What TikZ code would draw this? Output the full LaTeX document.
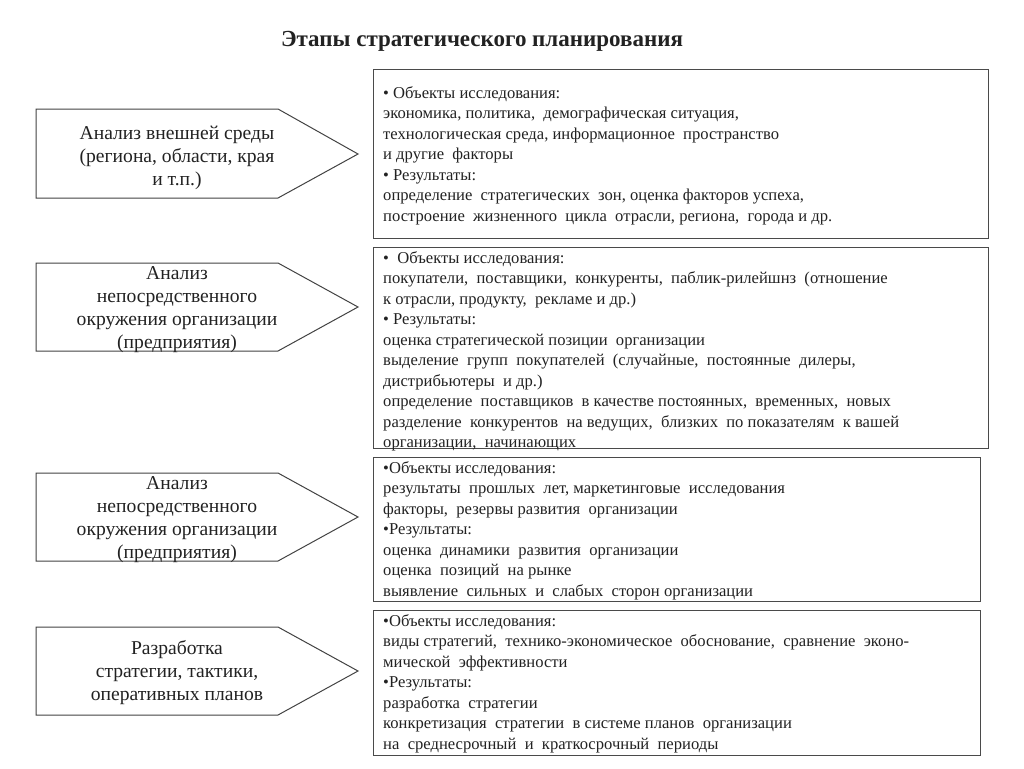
\documentclass[tikz,border=0pt]{standalone}
\usepackage{fontspec}
\setmainfont{Liberation Serif}
\definecolor{ink}{HTML}{222222}
\definecolor{frame}{HTML}{4A4A4A}
\tikzset{
  x=1pt, y=-1pt,
  boxframe/.style={draw=frame, line width=1.4pt, inner sep=0pt, anchor=north west},
  boxtext/.style={anchor=north west, inner sep=0pt, align=left, text=ink,
    font=\fontsize{16.6}{20.5}\selectfont},
  arrowshape/.style={draw=ink!85, line width=1pt, fill=white},
  arrowtext/.style={anchor=north, inner sep=0pt, align=center, text=ink,
    font=\fontsize{19.6}{23}\selectfont},
  titletext/.style={anchor=base, inner sep=0pt, text=ink,
    font=\fontsize{23}{26}\selectfont\bfseries}
}
\newcommand{\topstrut}[1]{\rule{0pt}{#1pt}}
\begin{document}
\begin{tikzpicture}
\useasboundingbox (0,0) rectangle (1024,768);
\fill[white] (0,0) rectangle (1024,768);

\node[titletext] (title) at (482,47) {Этапы стратегического планирования};

% left pointers
\foreach \t/\b/\m in {109/198/154, 263/351/307, 473/561/517, 627/715/671}{
  \draw[arrowshape] (36,\t) -- (278,\t) -- (358,\m) -- (278,\b) -- (36,\b) -- cycle;
}

\node[arrowtext] (a1) at (177,125) {\topstrut{14}Анализ внешней среды\\(региона, области, края\\и т.п.)};
\node[arrowtext] (a2) at (177,265) {\topstrut{14}Анализ\\непосредственного\\окружения организации\\(предприятия)};
\node[arrowtext] (a3) at (177,475) {\topstrut{14}Анализ\\непосредственного\\окружения организации\\(предприятия)};
\node[arrowtext] (a4) at (177,640) {\topstrut{14}Разработка\\стратегии, тактики,\\оперативных планов};

% right boxes
\node[boxframe, minimum width=615, minimum height=169] (b1) at (373,69) {};
\node[boxframe, minimum width=615, minimum height=201] (b2) at (373,247) {};
\node[boxframe, minimum width=607, minimum height=144] (b3) at (373,457) {};
\node[boxframe, minimum width=607, minimum height=145] (b4) at (373,610) {};

\node[boxtext] (t1) at (383,86) {\topstrut{12}• Объекты исследования:\\
экономика,  политика,\ \ демографическая ситуация,\\
технологическая среда, информационное\ \ пространство\\
и другие\ \ факторы\\
• Результаты:\\
определение\ \ стратегических\ \ зон, оценка факторов успеха,\\
построение\ \ жизненного\ \ цикла\ \ отрасли, региона,\ \ города и др.};

\node[boxtext] (t2) at (383,251) {\topstrut{12}•\ \ Объекты исследования:\\
покупатели,\ \ поставщики,\ \ конкуренты,\ \ паблик-рилейшнз\ \ (отношение\\
к отрасли, продукту,\ \ рекламе и др.)\\
• Результаты:\\
оценка стратегической позиции\ \ организации\\
выделение\ \ групп\ \ покупателей\ \ (случайные,\ \ постоянные\ \ дилеры,\\
дистрибьютеры\ \ и др.)\\
определение\ \ поставщиков\ \ в качестве постоянных,\ \ временных,\ \ новых\\
разделение\ \ конкурентов\ \ на ведущих,\ \ близких\ \ по показателям\ \ к вашей\\
организации,\ \ начинающих};

\node[boxtext] (t3) at (383,461) {\topstrut{12}•Объекты исследования:\\
результаты\ \ прошлых\ \ лет, маркетинговые\ \ исследования\\
факторы,\ \ резервы развития\ \ организации\\
•Результаты:\\
оценка\ \ динамики\ \ развития\ \ организации\\
оценка\ \ позиций\ \ на рынке\\
выявление\ \ сильных\ \ и\ \ слабых\ \ сторон организации};

\node[boxtext] (t4) at (383,614) {\topstrut{12}•Объекты исследования:\\
виды стратегий,\ \ технико-экономическое\ \ обоснование,\ \ сравнение\ \ эконо-\\
мической\ \ эффективности\\
•Результаты:\\
разработка\ \ стратегии\\
конкретизация\ \ стратегии\ \ в системе планов\ \ организации\\
на\ \ среднесрочный\ \ и\ \ краткосрочный\ \ периоды};
\end{tikzpicture}
\end{document}
